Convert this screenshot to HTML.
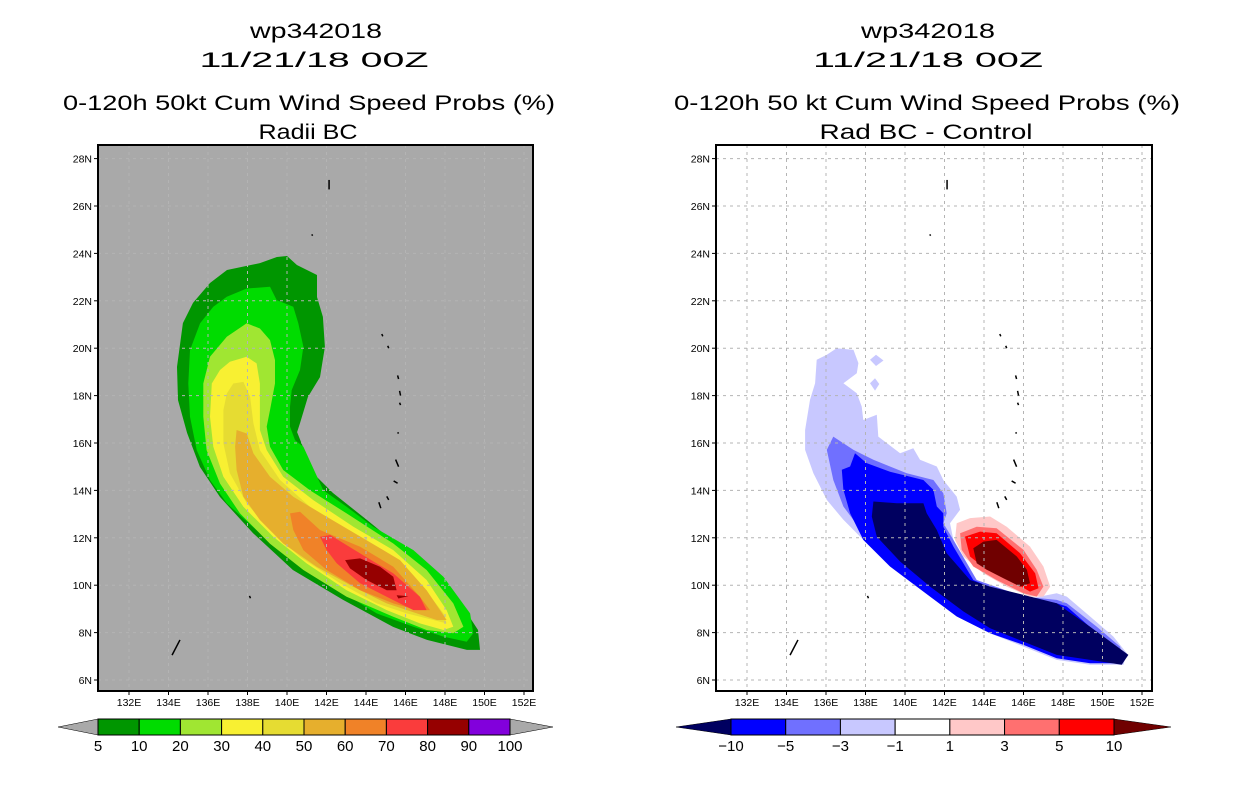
<!DOCTYPE html>
<html><head><meta charset="utf-8"><style>
html,body{margin:0;padding:0;background:#fff;}
svg{display:block;font-family:"Liberation Sans",sans-serif;}
</style></head><body>
<svg id="root" width="1236" height="800" viewBox="0 0 1236 800" xmlns="http://www.w3.org/2000/svg">
<defs>
<clipPath id="clipL"><rect x="98" y="145" width="435" height="546"/></clipPath>
<clipPath id="clipR"><rect x="716" y="145" width="436" height="546"/></clipPath>
</defs>
<g font-size="21" text-anchor="middle" fill="#000" lengthAdjust="spacingAndGlyphs">
<text x="316" y="38" textLength="132" lengthAdjust="spacingAndGlyphs">wp342018</text>
<text x="314" y="67" textLength="229" lengthAdjust="spacingAndGlyphs">11/21/18 00Z</text>
<text x="309" y="110" textLength="492" lengthAdjust="spacingAndGlyphs">0-120h 50kt Cum Wind Speed Probs (%)</text>
<text x="308" y="139" textLength="99" lengthAdjust="spacingAndGlyphs">Radii BC</text>
</g>
<g font-size="21" text-anchor="middle" fill="#000">
<text x="928" y="38" textLength="134" lengthAdjust="spacingAndGlyphs">wp342018</text>
<text x="928" y="67" textLength="230" lengthAdjust="spacingAndGlyphs">11/21/18 00Z</text>
<text x="927" y="110" textLength="506" lengthAdjust="spacingAndGlyphs">0-120h 50 kt Cum Wind Speed Probs (%)</text>
<text x="926" y="139" textLength="213" lengthAdjust="spacingAndGlyphs">Rad BC - Control</text>
</g>
<rect x="98" y="145" width="435" height="546" fill="#a9a9a9"/>
<rect x="716" y="145" width="436" height="546" fill="#fff"/>
<g id="plotL" clip-path="url(#clipL)"></g>
<g id="plotR" clip-path="url(#clipR)"></g>
<g id="axesL"></g>
<g id="axesR"></g>
<g id="cbarL"></g>
<g id="cbarR"></g>
</svg>
<script>
// ---- data (lon, lat) ----
const lonTicks = [132,134,136,138,140,142,144,146,148,150,152];
const latTicks = [6,8,10,12,14,16,18,20,22,24,26,28];
const probLevels = [5,10,20,30,40,50,60,70,80,90,100];
const probColors = ["#009600","#00dc00","#a0e632","#f8f032","#e6dc32","#e6af2d","#f08228","#fa3c3c","#960000","#8200dc"];
const diffLevels = [-10,-5,-3,-1,1,3,5,10];
const diffColors = ["#0000ff","#7070ff","#c8c8ff","#ffffff","#ffc8c8","#ff7070","#ff0000"];

const p5 = [[139.49,23.85],[140.0,23.89],[140.5,23.51],[141.52,23.09],[141.52,22.16],[141.82,21.32],[141.92,20.05],[141.67,18.78],[141.06,17.94],[140.66,16.84],[140.51,16.46],[140.81,15.83],[141.16,14.86],[142.33,13.89],[144.05,12.75],[145.72,11.61],[147.39,10.35],[148.91,9.08],[149.67,8.11],[149.77,7.27],[149.11,7.27],[147.09,7.69],[145.37,8.24],[142.84,9.38],[140.30,10.64],[138.28,12.20],[136.61,13.72],[135.59,14.99],[134.94,16.42],[134.48,17.81],[134.43,19.21],[134.73,21.06],[135.24,21.91],[136.10,22.75],[136.96,23.30],[138.63,23.59]];
const p10 = [[137.96,22.52],[139.14,22.59],[139.48,22.03],[140.32,21.75],[140.57,21.05],[140.83,20.06],[140.66,19.08],[140.24,18.23],[140.15,17.53],[140.15,16.69],[140.41,16.12],[140.83,15.84],[141.84,14.01],[143.02,13.31],[144.37,12.47],[146.40,11.48],[147.92,10.36],[149.27,8.81],[149.43,7.97],[149.10,7.61],[147.92,7.83],[146.40,8.25],[144.54,8.81],[142.35,9.93],[140.32,11.06],[138.63,12.19],[136.95,13.45],[136.10,14.44],[135.43,15.70],[135.09,17.11],[135.00,18.51],[135.09,19.92],[135.60,21.05],[136.27,21.75],[136.95,22.17]];
const p20 = [[137.96,21.05],[138.63,20.83],[139.14,20.34],[139.39,19.50],[139.39,18.51],[139.14,17.39],[138.97,16.69],[139.14,15.84],[139.81,14.86],[141.16,14.01],[143.02,13.03],[145.38,11.76],[147.07,10.64],[148.42,9.23],[148.93,8.25],[148.42,7.97],[147.07,8.11],[145.38,8.67],[143.02,9.51],[140.83,10.64],[139.14,11.75],[137.62,13.03],[136.61,14.29],[135.93,15.70],[135.76,17.11],[135.76,18.51],[136.10,19.64],[136.95,20.48]];
const p30 = [[137.96,19.64],[138.46,19.36],[138.63,18.51],[138.63,17.39],[138.63,16.55],[138.97,15.70],[139.81,14.58],[141.33,13.59],[143.36,12.47],[145.38,11.48],[147.07,10.22],[148.08,8.95],[148.42,8.25],[147.92,8.11],[146.73,8.39],[145.05,8.95],[143.02,9.79],[140.99,10.92],[139.31,12.04],[137.79,13.31],[136.78,14.58],[136.27,15.84],[136.10,17.11],[136.19,18.51],[136.61,19.08],[137.11,19.43]];
const p40 = [[137.28,18.51],[137.79,18.58],[138.13,17.95],[138.30,16.83],[138.63,15.70],[139.65,14.44],[141.16,13.31],[143.36,12.19],[145.38,11.20],[146.90,9.93],[147.92,8.81],[148.08,8.39],[147.41,8.53],[146.06,8.81],[144.54,9.23],[142.68,10.09],[140.66,11.20],[139.14,12.33],[137.96,13.45],[137.11,14.72],[136.78,15.98],[136.78,17.39],[136.95,18.09]];
const p50 = [[137.45,16.55],[137.96,16.40],[138.30,15.56],[139.14,14.58],[140.32,13.73],[142.01,12.89],[144.03,11.90],[145.72,11.06],[147.07,9.79],[148.08,8.53],[147.58,8.53],[146.57,8.81],[145.05,9.23],[143.36,9.93],[141.50,10.78],[139.81,11.76],[138.63,12.75],[137.79,13.73],[137.45,14.86],[137.37,15.84]];
const p60 = [[140.15,13.03],[140.66,13.10],[141.67,12.33],[143.70,11.62],[145.38,10.78],[146.73,9.51],[147.24,8.95],[146.57,8.95],[145.38,9.23],[143.70,9.79],[142.01,10.64],[140.83,11.48],[140.32,12.33]];
const p70 = [[141.67,12.04],[142.18,12.12],[143.70,11.34],[145.38,10.50],[146.73,9.51],[147.07,8.95],[146.40,8.95],[145.38,9.37],[143.70,10.08],[142.52,10.92],[142.01,11.48]];
const p80 = [[142.94,11.06],[143.70,11.13],[144.71,10.78],[145.38,10.36],[145.55,9.79],[145.05,9.79],[144.03,10.22],[143.19,10.71]];
const p80b = [[145.55,9.58],[146.14,9.54],[145.64,9.44]];

const dNeg1 = [[136.54,20.0],[137.39,19.93],[137.64,19.37],[137.56,18.94],[136.88,18.52],[137.56,18.10],[137.81,17.54],[137.89,16.97],[138.57,17.19],[138.65,16.27],[139.75,15.57],[140.42,15.78],[140.76,15.29],[141.61,15.01],[141.94,14.44],[142.62,13.74],[142.79,13.18],[142.28,12.61],[142.45,11.91],[143.63,9.94],[146.0,9.38],[147.68,9.66],[148.19,9.52],[149.37,8.68],[150.55,7.83],[151.23,7.13],[151.06,6.64],[149.37,6.64],[147.68,6.85],[146.0,7.41],[144.31,7.97],[142.96,8.54],[141.27,9.52],[139.75,10.65],[138.23,11.63],[136.88,12.76],[136.04,13.6],[135.36,14.72],[134.94,15.71],[134.94,16.55],[135.19,17.82],[135.45,18.52],[135.53,19.51],[136.04,19.72]];
const dNeg1b = [[138.23,19.51],[138.53,19.72],[138.91,19.48],[138.53,19.25]];
const dNeg1c = [[138.23,18.52],[138.48,18.73],[138.70,18.49],[138.48,18.21]];
const dNeg3 = [[136.37,16.27],[137.39,15.71],[138.40,15.29],[139.24,15.01],[140.09,14.72],[141.44,14.44],[141.94,13.88],[142.11,13.04],[141.94,12.61],[142.45,11.91],[143.63,10.22],[146.0,9.52],[147.68,9.38],[148.19,9.24],[149.71,8.25],[150.89,7.41],[151.06,6.85],[149.37,6.78],[147.68,6.99],[146.0,7.55],[144.31,8.11],[142.62,8.82],[140.93,9.94],[139.41,11.07],[137.89,12.19],[136.88,13.32],[136.37,14.44],[136.04,15.71]];
const dNeg5 = [[137.47,15.57],[138.06,15.15],[139.24,14.79],[140.93,14.44],[141.44,14.02],[141.61,13.32],[141.94,13.04],[141.94,12.47],[142.45,11.63],[143.46,10.22],[144.64,9.8],[146.0,9.45],[147.68,9.24],[148.19,9.10],[149.54,8.11],[151.23,7.06],[150.97,6.71],[149.37,6.71],[147.68,6.92],[146.0,7.48],[144.31,7.97],[142.62,8.68],[140.93,9.73],[139.24,10.79],[137.89,11.91],[137.22,13.04],[136.88,14.02],[136.80,14.87],[137.22,15.01]];
const dNeg10 = [[138.40,13.53],[139.58,13.46],[140.93,13.46],[141.10,13.04],[141.61,12.33],[142.11,11.35],[143.29,10.22],[144.31,9.94],[146.0,9.59],[147.68,9.24],[149.37,8.25],[151.31,7.06],[150.97,6.64],[149.37,6.85],[147.68,7.06],[146.0,7.62],[144.31,8.18],[142.96,8.89],[141.27,9.94],[139.75,11.0],[138.57,12.05],[138.32,12.9]];
const dPos1 = [[142.62,12.61],[143.29,12.83],[144.31,12.9],[145.15,12.47],[146.33,11.63],[147.01,10.79],[147.35,9.94],[147.01,9.52],[146.33,9.52],[145.15,9.94],[143.97,10.5],[142.96,11.21],[142.53,11.91]];
const dPos3 = [[142.79,12.19],[143.63,12.47],[144.64,12.4],[146.0,11.49],[146.67,10.65],[147.01,9.94],[146.67,9.52],[146.0,9.66],[144.64,10.22],[143.46,10.79],[142.87,11.49]];
const dPos5 = [[143.04,12.05],[143.8,12.26],[144.64,12.19],[145.83,11.35],[146.59,10.5],[146.76,9.87],[146.33,9.73],[145.32,10.22],[144.14,10.65],[143.29,11.21]];
const dPos10 = [[143.46,11.56],[143.97,11.84],[144.64,11.91],[145.66,11.21],[146.17,10.65],[146.33,10.08],[145.83,9.94],[144.98,10.29],[144.14,10.65],[143.63,10.93]];

const islands = [[[142.13,27.1],[142.13,26.7]],[[141.25,24.8],[141.3,24.75]],[[144.8,20.6],[144.85,20.5]],[[145.1,20.1],[145.15,20.0]],[[145.6,18.85],[145.65,18.7]],[[145.7,18.2],[145.75,18.0]],[[145.7,17.7],[145.75,17.6]],[[145.6,16.45],[145.65,16.4]],[[145.5,15.3],[145.65,15.0]],[[145.4,14.4],[145.6,14.3]],[[145.05,13.75],[145.15,13.6]],[[144.65,13.5],[144.75,13.25]],[[138.1,9.55],[138.15,9.45]],[[134.18,7.05],[134.58,7.69]]];

const NS = "http://www.w3.org/2000/svg";
function px(lon, x0){ return x0 + (lon-132)*19.75; }
function py(lat){ return 680 - (lat-6)*23.7; }
function mk(tag, attrs, parent){ const e=document.createElementNS(NS,tag); for(const k in attrs) e.setAttribute(k,attrs[k]); parent.appendChild(e); return e; }
function poly(pts, x0, fill, parent, name){
  const d = pts.map(p=>px(p[0],x0).toFixed(1)+","+py(p[1]).toFixed(1)).join(" ");
  const e = mk("polygon",{points:d,fill:fill},parent);
  
  
}
const X0L=129, X0R=747;
const gL=document.getElementById("plotL"), gR=document.getElementById("plotR");
const leftSets=[p5,p10,p20,p30,p40,p50,p60,p70,p80,p80b];
const leftCols=[0,1,2,3,4,5,6,7,8,8];
leftSets.forEach((s,i)=>poly(s,X0L,probColors[leftCols[i]],gL,"prob-contour-"+probLevels[leftCols[i]]));
const rightSets=[dNeg1,dNeg1b,dNeg1c,dNeg3,dNeg5,dNeg10,dPos1,dPos3,dPos5,dPos10];
const rightCols=["#c8c8ff","#c8c8ff","#c8c8ff","#7070ff","#0000ff","#000060","#ffc8c8","#ff7070","#ff0000","#700000"];
const rightNames=["-1","-1","-1","-3","-5","-10","1","3","5","10"];
rightSets.forEach((s,i)=>poly(s,X0R,rightCols[i],gR,"diff-contour-"+rightNames[i]));

function axes(g, plot, x0, fl, fr){
  lonTicks.forEach(l=>{ const x=px(l,x0);
    const e=mk("line",{x1:x,x2:x,y1:145,y2:691,stroke:"#b4b4b4","stroke-width":1,"stroke-dasharray":"3,4"},plot);
      });
  latTicks.forEach(l=>{ const y=py(l);
    const e=mk("line",{x1:fl,x2:fr,y1:y,y2:y,stroke:"#b4b4b4","stroke-width":1,"stroke-dasharray":"3,4"},plot);
      });
  islands.forEach(s=>{ const e=mk("line",{x1:px(s[0][0],x0),y1:py(s[0][1]),x2:px(s[1][0],x0),y2:py(s[1][1]),stroke:"#000","stroke-width":1.5},plot);
      });
  const fr_=mk("rect",{x:fl,y:145,width:fr-fl,height:546,fill:"none",stroke:"#000","stroke-width":2},g);
   
  lonTicks.forEach(l=>{ const x=px(l,x0);
    mk("line",{x1:x,x2:x,y1:691,y2:695,stroke:"#000"},g);
    const t=mk("text",{x:x,y:706,"font-size":10.5,"text-anchor":"middle"},g); t.textContent=l+"E";
      });
  latTicks.forEach(l=>{ const y=py(l);
    mk("line",{x1:fl-4,x2:fl,y1:y,y2:y,stroke:"#000"},g);
    const t=mk("text",{x:fl-6,y:y+4,"font-size":10.5,"text-anchor":"end"},g); t.textContent=l+"N";
      });
}
axes(document.getElementById("axesL"), gL, X0L, 98, 533);
axes(document.getElementById("axesR"), gR, X0R, 716, 1152);

function cbar(g, x0, x1, tl, tr, cols, labels, lcol, rcol){
  const y0=719,y1=735,ym=727,w=(x1-x0)/cols.length;
  const a=mk("polygon",{points:`${tl},${ym} ${x0},${y0} ${x0},${y1}`,fill:lcol,stroke:"#000","stroke-width":0.5},g);
   
  const b=mk("polygon",{points:`${tr},${ym} ${x1},${y0} ${x1},${y1}`,fill:rcol,stroke:"#000","stroke-width":0.5},g);
   
  cols.forEach((c,i)=>{ const r=mk("rect",{x:x0+i*w,y:y0,width:w,height:y1-y0,fill:c,stroke:"#000","stroke-width":1},g);
      });
  labels.forEach((v,i)=>{ const t=mk("text",{x:x0+i*w,y:751,"font-size":15,"text-anchor":"middle"},g);
    t.textContent=String(v).replace("-","\u2212");
      });
}
cbar(document.getElementById("cbarL"),98,510,58,553,probColors,probLevels,"#a9a9a9","#a9a9a9");
cbar(document.getElementById("cbarR"),731,1114,676,1171,diffColors,diffLevels,"#000060","#700000");
</script>
</body></html>
